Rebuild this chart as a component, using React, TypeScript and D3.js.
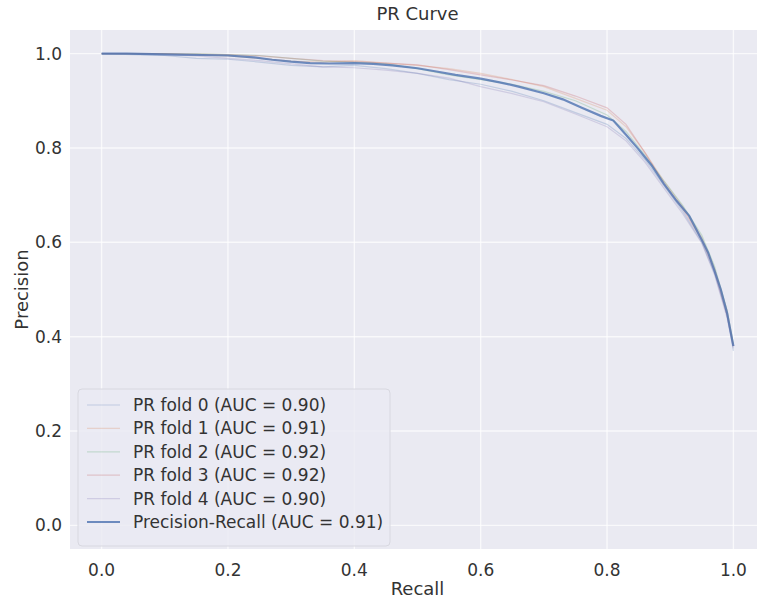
import React from "react";
import * as d3 from "d3";

// recall points shared by the five folds
const foldRecall = [0, 0.05, 0.1, 0.15, 0.2, 0.25, 0.3, 0.35, 0.4, 0.45, 0.5, 0.55, 0.6, 0.65, 0.7, 0.75, 0.8, 0.83, 0.86, 0.89, 0.92, 0.95, 0.97, 0.99, 1.0];

const fold0 = [1.0, 0.998, 0.996, 0.99, 0.988, 0.982, 0.975, 0.972, 0.975, 0.968, 0.958, 0.945, 0.935, 0.92, 0.9, 0.875, 0.85, 0.82, 0.775, 0.72, 0.665, 0.6, 0.535, 0.445, 0.37];
const fold1 = [1.0, 1.0, 1.0, 0.997, 0.995, 0.99, 0.984, 0.982, 0.985, 0.98, 0.975, 0.968, 0.958, 0.945, 0.93, 0.905, 0.88, 0.845, 0.79, 0.73, 0.675, 0.61, 0.545, 0.455, 0.38];
const fold2 = [1.0, 1.0, 1.0, 1.0, 0.998, 0.996, 0.99, 0.984, 0.982, 0.978, 0.968, 0.955, 0.945, 0.935, 0.92, 0.9, 0.87, 0.835, 0.785, 0.73, 0.678, 0.615, 0.55, 0.455, 0.385];
const fold3 = [1.0, 1.0, 1.0, 0.999, 0.998, 0.995, 0.99, 0.985, 0.983, 0.98, 0.976, 0.966, 0.955, 0.944, 0.932, 0.91, 0.885, 0.85, 0.79, 0.725, 0.67, 0.605, 0.54, 0.445, 0.38];
const fold4 = [1.0, 1.0, 0.998, 0.995, 0.99, 0.985, 0.978, 0.972, 0.97, 0.965, 0.958, 0.948, 0.93, 0.915, 0.898, 0.872, 0.845, 0.815, 0.77, 0.715, 0.66, 0.598, 0.532, 0.44, 0.375];

const meanRecall = [0, 0.04, 0.08, 0.12, 0.16, 0.2, 0.24, 0.27, 0.3, 0.33, 0.36, 0.4, 0.43, 0.46, 0.5, 0.53, 0.56, 0.6, 0.63, 0.66, 0.7, 0.73, 0.76, 0.79, 0.81, 0.83, 0.85, 0.87, 0.89, 0.91, 0.93, 0.95, 0.96, 0.97, 0.98, 0.99, 0.995, 1.0];
const meanPrecision = [1.0, 1.0, 0.999, 0.998, 0.997, 0.996, 0.992, 0.987, 0.983, 0.98, 0.979, 0.98, 0.978, 0.975, 0.969, 0.962, 0.955, 0.947, 0.939, 0.93, 0.916, 0.903, 0.885, 0.868, 0.858, 0.828, 0.797, 0.764, 0.724, 0.688, 0.656, 0.605, 0.578, 0.54, 0.5, 0.45, 0.415, 0.38];

const foldNames = ["PR fold 0 (AUC = 0.90)", "PR fold 1 (AUC = 0.91)", "PR fold 2 (AUC = 0.92)", "PR fold 3 (AUC = 0.92)", "PR fold 4 (AUC = 0.90)"];
const meanName = "Precision-Recall (AUC = 0.91)";
const ticks = [0, 0.2, 0.4, 0.6, 0.8, 1.0];

const foldColors = ["#4C72B0", "#DD8452", "#55A868", "#C44E52", "#8172B3"];
const meanColor = "#4C72B0";
const textColor = "#333333";
const font = "DejaVu Sans, sans-serif";

const width = 757;
const height = 601;
const left = 70;
const right = 765;
const top = 30;
const bottom = 549;

export default function App() {
  const x = d3.scaleLinear().domain([-0.05, 1.05]).range([left, right]);
  const y = d3.scaleLinear().domain([-0.05, 1.05]).range([bottom, top]);

  const line = d3
    .line<[number, number]>()
    .x(d => x(d[0]))
    .y(d => y(d[1]));

  const folds = [fold0, fold1, fold2, fold3, fold4];

  // legend
  const lgX = 78;
  const lgY = 389;
  const rowH = 23.4;

  return (
    <svg
      width={width}
      height={height}
      style={{ position: "absolute", left: 0, top: 0, background: "#fff" }}
      fontFamily={font}
    >
      <rect x={left} y={top} width={right - left} height={bottom - top} fill="#EAEAF2" />

      {/* GRID */}
      {ticks.map(t => (
        <line key={"gx" + t} x1={x(t)} x2={x(t)} y1={top} y2={bottom} stroke="#fff" strokeOpacity={0.7} strokeWidth={1.4} />
      ))}
      {ticks.map(t => (
        <line key={"gy" + t} x1={left} x2={right} y1={y(t)} y2={y(t)} stroke="#fff" strokeOpacity={0.7} strokeWidth={1.4} />
      ))}

      {/* CURVES */}
      {folds.map((f, i) => (
        <path
          key={"f" + i}
          d={line(foldRecall.map((r, j) => [r, f[j]] as [number, number])) || ""}
          fill="none"
          stroke={foldColors[i]}
          strokeOpacity={0.25}
          strokeWidth={1.2}
        />
      ))}
      <path
        d={line(meanRecall.map((r, j) => [r, meanPrecision[j]] as [number, number])) || ""}
        fill="none"
        stroke={meanColor}
        strokeOpacity={0.8}
        strokeWidth={2.2}
      />

      {/* TICK LABELS */}
      {ticks.map(t => (
        <text key={"tx" + t} x={x(t)} y={576} textAnchor="middle" fontSize={17} fill={textColor}>
          {t.toFixed(1)}
        </text>
      ))}
      {ticks.map(t => (
        <text key={"ty" + t} x={62} y={y(t)} dy="0.35em" textAnchor="end" fontSize={17} fill={textColor}>
          {t.toFixed(1)}
        </text>
      ))}

      {/* LABELS */}
      <text x={(left + right) / 2} y={595} textAnchor="middle" fontSize={18} fill={textColor}>
        Recall
      </text>
      <text
        transform={`translate(28,${(top + bottom) / 2}) rotate(-90)`}
        textAnchor="middle"
        fontSize={18}
        fill={textColor}
      >
        Precision
      </text>
      <text x={(left + right) / 2} y={20} textAnchor="middle" fontSize={18} fill={textColor}>
        PR Curve
      </text>

      {/* LEGEND */}
      <rect
        x={lgX}
        y={lgY}
        width={312}
        height={157}
        rx={4}
        fill="#EAEAF2"
        fillOpacity={0.8}
        stroke="#d8d8e0"
        strokeWidth={1}
      />
      {[...foldNames, meanName].map((name, i) => {
        const cy = lgY + 16 + i * rowH;
        const isMean = i === foldNames.length;
        return (
          <g key={name}>
            <line
              x1={87}
              x2={120}
              y1={cy}
              y2={cy}
              stroke={isMean ? meanColor : foldColors[i]}
              strokeOpacity={isMean ? 0.8 : 0.25}
              strokeWidth={isMean ? 2.2 : 1.2}
            />
            <text x={133} y={cy} dy="0.35em" fontSize={17} fill={textColor}>
              {name}
            </text>
          </g>
        );
      })}
    </svg>
  );
}
